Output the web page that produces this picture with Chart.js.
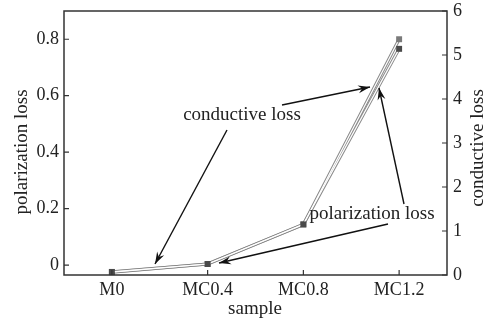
<!DOCTYPE html>
<html>
<head>
<meta charset="utf-8">
<script src="https://cdn.jsdelivr.net/npm/chart.js@4"></script>
<style>
  html, body { margin: 0; padding: 0; background: #fff; }
  #wrap { width: 491px; height: 322px; }
</style>
</head>
<body>
<div id="wrap"><canvas id="lossChart" width="491" height="322"></canvas></div>
<script>
// Data
const samples = ['M0', 'MC0.4', 'MC0.8', 'MC1.2'];
const polarizationLoss = [-0.025, 0.004, 0.144, 0.80];
const conductiveLoss = [0.07, 0.25, 1.15, 5.14];
const leftTicks = [0, 0.2, 0.4, 0.6, 0.8];
const rightTicks = [0, 1, 2, 3, 4, 5, 6];

const serif = '"Liberation Serif", "DejaVu Serif", serif';
const ink = '#222';

// frame, inward ticks, arrows and labels
const decor = {
    id: 'decor',
    afterDraw(chart) {
        const ctx = chart.ctx;
        const a = chart.chartArea;
        const x = chart.scales.x, y = chart.scales.y, y1 = chart.scales.y1;
        ctx.save();
        ctx.strokeStyle = '#333';
        ctx.lineWidth = 1.5;
        ctx.strokeRect(a.left, a.top, a.right - a.left, a.bottom - a.top);

        ctx.lineWidth = 1.2;
        ctx.beginPath();
        leftTicks.forEach(v => {
            const py = y.getPixelForValue(v);
            ctx.moveTo(a.left, py); ctx.lineTo(a.left + 5, py);
        });
        rightTicks.forEach(v => {
            const py = y1.getPixelForValue(v);
            ctx.moveTo(a.right, py); ctx.lineTo(a.right - 5, py);
        });
        samples.forEach((s, i) => {
            const px = x.getPixelForValue(i);
            ctx.moveTo(px, a.bottom); ctx.lineTo(px, a.bottom - 5);
        });
        ctx.stroke();

        // axis titles drawn by hand so the right one reads bottom to top
        ctx.fillStyle = ink;
        ctx.font = '19px ' + serif;
        ctx.textAlign = 'center';
        ctx.textBaseline = 'middle';
        ctx.fillText('sample', 255, 309);
        ctx.save();
        ctx.translate(22, 152);
        ctx.rotate(-Math.PI / 2);
        ctx.fillText('polarization loss', 0, 0);
        ctx.restore();
        ctx.save();
        ctx.translate(478, 148);
        ctx.rotate(-Math.PI / 2);
        ctx.fillText('conductive loss', 0, 0);
        ctx.restore();

        // annotations
        ctx.fillText('conductive loss', 242, 115);
        ctx.fillText('polarization loss', 372, 214);

        const arrow = (x0, y0, x1, y1) => {
            ctx.strokeStyle = '#111';
            ctx.fillStyle = '#111';
            ctx.lineWidth = 1.4;
            ctx.beginPath();
            ctx.moveTo(x0, y0); ctx.lineTo(x1, y1);
            ctx.stroke();
            const ang = Math.atan2(y1 - y0, x1 - x0);
            const len = 12, half = 4;
            ctx.beginPath();
            ctx.moveTo(x1, y1);
            ctx.lineTo(x1 - len * Math.cos(ang) + half * Math.sin(ang), y1 - len * Math.sin(ang) - half * Math.cos(ang));
            ctx.lineTo(x1 - 8 * Math.cos(ang), y1 - 8 * Math.sin(ang));
            ctx.lineTo(x1 - len * Math.cos(ang) - half * Math.sin(ang), y1 - len * Math.sin(ang) + half * Math.cos(ang));
            ctx.closePath();
            ctx.fill();
        };
        arrow(282, 105, 370, 87);
        arrow(227, 130, 155, 264);
        arrow(388, 224, 219, 263);
        arrow(404, 204, 379, 88);
        ctx.restore();
    }
};

const outer = (data, axis, order) => ({
    data: data,
    yAxisID: axis,
    borderColor: '#8a8a8a',
    borderWidth: 3.2,
    pointRadius: 0,
    tension: 0,
    order: order
});
const inner = (data, axis, order, fill) => ({
    data: data,
    yAxisID: axis,
    borderColor: '#fff',
    borderWidth: 1.2,
    pointStyle: 'rect',
    pointRadius: 4.2,
    pointBackgroundColor: fill,
    pointBorderColor: fill,
    pointBorderWidth: 0,
    tension: 0,
    order: order
});

// fixed plot box: no extra room for overhanging labels
const fixVertical = w => s => {
    s.width = w;
    s.paddingTop = 0;
    s.paddingBottom = 0;
};

new Chart(document.getElementById('lossChart'), {
    type: 'line',
    data: {
        labels: samples,
        datasets: [
            outer(polarizationLoss, 'y', 4),
            outer(conductiveLoss, 'y1', 3),
            inner(polarizationLoss, 'y', 2, '#7a7a7a'),
            inner(conductiveLoss, 'y1', 1, '#4a4a4a')
        ]
    },
    options: {
        responsive: false,
        animation: false,
        clip: false,
        layout: { padding: { top: 11, left: 0, right: 0, bottom: 0 } },
        plugins: { legend: { display: false }, tooltip: { enabled: false } },
        scales: {
            x: {
                offset: true,
                grid: { display: false, drawTicks: false },
                border: { display: false },
                ticks: { color: ink, font: { family: serif, size: 18 }, padding: 4, maxRotation: 0 },
                afterFit: s => { s.height = 47; s.paddingLeft = 0; s.paddingRight = 0; }
            },
            y: {
                position: 'left',
                min: -0.035,
                max: 0.9,
                grid: { display: false, drawTicks: false },
                border: { display: false },
                afterBuildTicks: s => { s.ticks = leftTicks.map(v => ({ value: v })); },
                ticks: {
                    color: ink, font: { family: serif, size: 18 }, padding: 5,
                    callback: v => (v === 0 ? '0' : v.toFixed(1))
                },
                afterFit: fixVertical(64)
            },
            y1: {
                position: 'right',
                min: 0,
                max: 6,
                grid: { display: false, drawTicks: false },
                border: { display: false },
                afterBuildTicks: s => { s.ticks = rightTicks.map(v => ({ value: v })); },
                ticks: { color: ink, font: { family: serif, size: 18 }, padding: 6 },
                afterFit: fixVertical(44)
            }
        }
    },
    plugins: [decor]
});
</script>
</body>
</html>
